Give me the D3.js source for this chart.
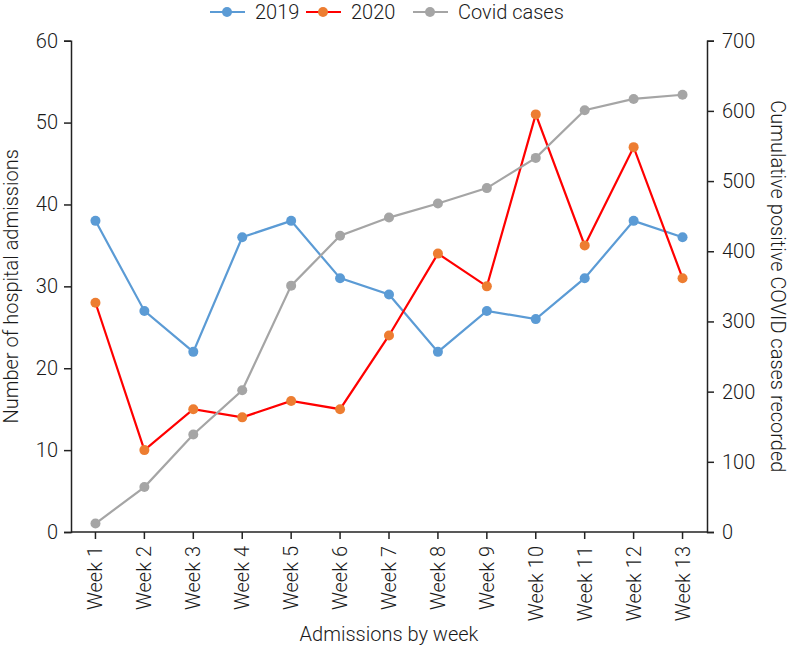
<!DOCTYPE html>
<html><head><meta charset="utf-8">
<script src="https://cdn.jsdelivr.net/npm/d3@7"></script>
<style>
body{margin:0;background:#fff;}
svg text{font-family:"Roboto","Open Sans",sans-serif;font-weight:300;fill:#1a1a1a;}
</style></head>
<body><svg id="c" width="789" height="647"></svg>
<script>
const weeks = ["Week 1","Week 2","Week 3","Week 4","Week 5","Week 6","Week 7","Week 8","Week 9","Week 10","Week 11","Week 12","Week 13"];
const admissions2019 = [38,27,22,36,38,31,29,22,27,26,31,38,36];
const admissions2020 = [28,10,15,14,16,15,24,34,30,51,35,47,31];
const covidCases = [12,64,139,202,351,422,448,468,490,533,601,617,623];
const leftTicks = [0,10,20,30,40,50,60];
const rightTicks = [0,100,200,300,400,500,600,700];

const svg = d3.select("#c");
const L = 71, R = 707, T = 40.7, B = 532;
const x = d3.scaleBand().domain(weeks).range([L,R]);
const xc = d => x(d) + x.bandwidth()/2;
const yL = d3.scaleLinear().domain([0,60]).range([B,T]);
const yR = d3.scaleLinear().domain([0,700]).range([B,T]);

function styleAxis(g){
  g.selectAll("path,line").attr("stroke","#222").attr("stroke-width",1.5);
  g.selectAll("text").style("font-size","20px");
}
svg.append("g").attr("transform",`translate(${L},0)`)
  .call(d3.axisLeft(yL).tickValues(leftTicks).tickSizeOuter(0).tickSize(7).tickPadding(6))
  .call(styleAxis);
svg.append("g").attr("transform",`translate(${R},0)`)
  .call(d3.axisRight(yR).tickValues(rightTicks).tickSizeOuter(0).tickSize(7).tickPadding(8))
  .call(styleAxis);
const xa = svg.append("g").attr("transform",`translate(0,${B})`)
  .call(d3.axisBottom(x).tickSizeOuter(0).tickSize(7))
  .call(styleAxis);
xa.select(".domain").attr("d",`M${L},0H${R}`);
xa.selectAll("text").attr("transform","rotate(-90)").attr("text-anchor","end")
  .attr("x",-14).attr("y",0).attr("dy","0.35em");

const series = [
  {name:"2019", vals:admissions2019, y:yL, line:"#5b9bd5", dot:"#5b9bd5"},
  {name:"2020", vals:admissions2020, y:yL, line:"#ff0000", dot:"#ed7d31"},
  {name:"Covid cases", vals:covidCases, y:yR, line:"#a5a5a5", dot:"#a5a5a5"}
];
series.forEach(s=>{
  const ln = d3.line().x((d,i)=>xc(weeks[i])).y(d=>s.y(d));
  svg.append("path").attr("d",ln(s.vals)).attr("fill","none").attr("stroke",s.line).attr("stroke-width",2.2);
  svg.append("g").selectAll("circle").data(s.vals).join("circle")
    .attr("cx",(d,i)=>xc(weeks[i])).attr("cy",d=>s.y(d)).attr("r",5).attr("fill",s.dot);
});

// legend
const legX = [210, 306, 413];
series.forEach((s,i)=>{
  const g = svg.append("g").attr("transform",`translate(${legX[i]},12)`);
  g.append("line").attr("x1",0).attr("x2",35).attr("stroke",s.line).attr("stroke-width",2.2);
  g.append("circle").attr("cx",17).attr("r",5).attr("fill",s.dot);
  g.append("text").attr("x",45).attr("dy","0.35em").style("font-size","20px").text(s.name);
});

svg.append("text").attr("x",(L+R)/2).attr("y",641).attr("text-anchor","middle").style("font-size","20px").text("Admissions by week");
svg.append("text").attr("transform",`translate(18,${(T+B)/2}) rotate(-90)`).attr("text-anchor","middle").style("font-size","20px").text("Number of hospital admissions");
svg.append("text").attr("transform",`translate(771,${(T+B)/2}) rotate(90)`).attr("text-anchor","middle").style("font-size","20px").text("Cumulative positive COVID cases recorded");
</script></body></html>
